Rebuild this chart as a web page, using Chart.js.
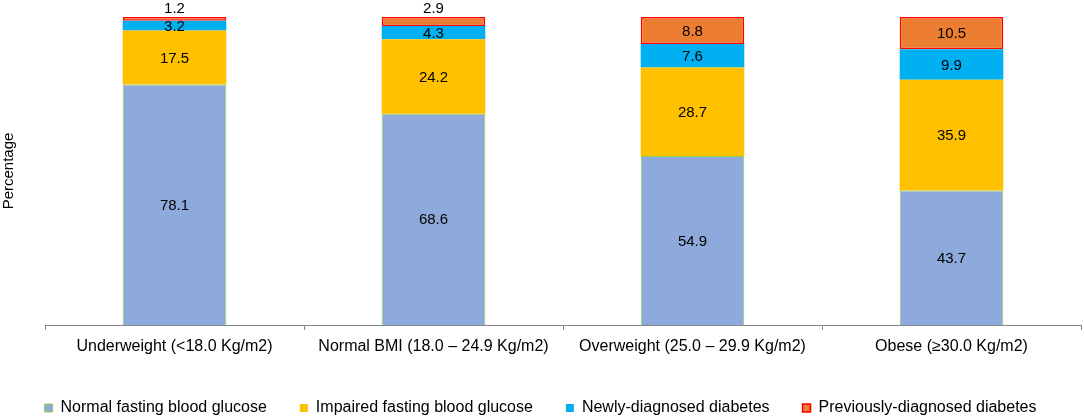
<!DOCTYPE html>
<html>
<head>
<meta charset="utf-8">
<script src="https://cdn.jsdelivr.net/npm/chart.js@4"></script>
<style>
  html, body { margin: 0; padding: 0; background: #fff; }
  #wrap { width: 1084px; height: 419px; }
</style>
</head>
<body>
<div id="wrap"><canvas id="chart"></canvas></div>
<script>
// --- data ---
const categories = [
  "Underweight (<18.0 Kg/m2)",
  "Normal BMI (18.0 \u2013 24.9 Kg/m2)",
  "Overweight (25.0 \u2013 29.9 Kg/m2)",
  "Obese (\u226530.0 Kg/m2)"
];
const normalFasting = [78.1, 68.6, 54.9, 43.7];
const impairedFasting = [17.5, 24.2, 28.7, 35.9];
const newlyDiagnosed = [3.2, 4.3, 7.6, 9.9];
const previouslyDiagnosed = [1.2, 2.9, 8.8, 10.5];

const FONT = "'Liberation Sans', Arial, sans-serif";
const LEGEND_GAP = 33;

// labels inside segments; tiny top segments get their label above the bar
const segmentLabels = {
  id: 'segmentLabels',
  afterDatasetsDraw(chart) {
    const ctx = chart.ctx;
    ctx.save();
    ctx.font = `15px ${FONT}`;
    ctx.fillStyle = '#000';
    ctx.textAlign = 'center';
    ctx.textBaseline = 'middle';
    chart.data.datasets.forEach((ds, di) => {
      chart.getDatasetMeta(di).data.forEach((bar, i) => {
        const v = ds.data[i];
        const { x, y, base } = bar.getProps(['x', 'y', 'base'], true);
        let ty = (y + base) / 2;
        if (di === 3 && v < 3) ty = y - 9;
        ctx.fillText(v.toFixed(1), x, ty + 1);
      });
    });
    ctx.restore();
  }
};

// legend padding is both the item gap and the vertical inset, so pin its box height
const legendHeight = {
  id: 'legendHeight',
  beforeUpdate(chart) {
    const lg = chart.legend;
    if (lg && !lg._pinned) {
      const fit = lg.fit;
      lg.fit = function () { fit.call(this); this.height = 52; };
      lg._pinned = true;
    }
  }
};

new Chart(document.getElementById('chart'), {
  type: 'bar',
  data: {
    labels: categories,
    datasets: [
      { label: 'Normal fasting blood glucose', data: normalFasting,
        backgroundColor: '#8EA9DB', borderColor: '#92D050', borderWidth: 1 },
      { label: 'Impaired fasting blood glucose', data: impairedFasting,
        backgroundColor: '#FFC000', borderColor: '#FFC000', borderWidth: 0 },
      { label: 'Newly-diagnosed diabetes', data: newlyDiagnosed,
        backgroundColor: '#00B0F0', borderColor: '#00B0F0', borderWidth: 0 },
      { label: 'Previously-diagnosed diabetes', data: previouslyDiagnosed,
        backgroundColor: '#ED7D31', borderColor: '#FF0000', borderWidth: 1.5, borderSkipped: false }
    ]
  },
  options: {
    responsive: true,
    maintainAspectRatio: false,
    animation: false,
    layout: { padding: { top: 17, right: 3, left: 0, bottom: 0 } },
    datasets: { bar: { categoryPercentage: 1, barPercentage: 0.4 } },
    plugins: {
      tooltip: { enabled: false },
      legend: {
        position: 'bottom',
        labels: {
          color: '#000',
          font: { family: FONT, size: 16 },
          boxWidth: 8,
          boxHeight: 8,
          padding: LEGEND_GAP,
          useBorderRadius: false
        }
      }
    },
    scales: {
      x: {
        stacked: true,
        afterFit(scale) { scale.height = 42; },
        border: { color: '#868686', width: 1 },
        grid: { offset: true, drawOnChartArea: false, drawTicks: true, tickLength: 5, color: '#868686' },
        ticks: { color: '#000', font: { family: FONT, size: 16 }, padding: 7, maxRotation: 0 }
      },
      y: {
        stacked: true,
        min: 0,
        max: 100,
        afterFit(scale) { scale.width = 45; },
        border: { display: false },
        grid: { display: false },
        ticks: { display: false },
        title: { display: true, text: 'Percentage', color: '#000', font: { family: FONT, size: 15 }, padding: 0 }
      }
    }
  },
  plugins: [segmentLabels, legendHeight]
});
</script>
</body>
</html>
